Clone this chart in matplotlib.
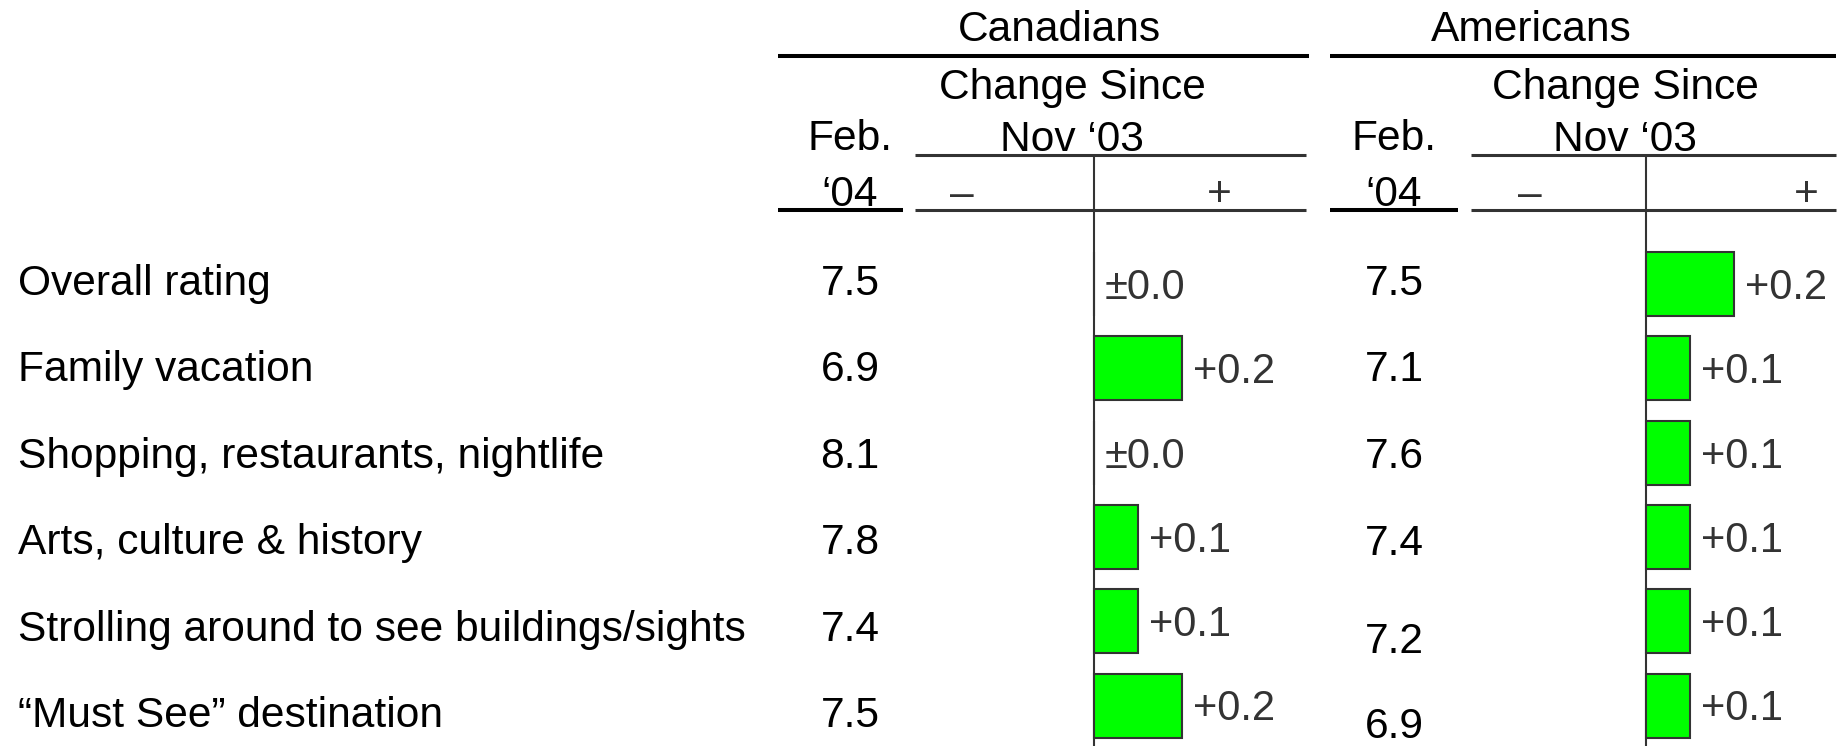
import matplotlib
matplotlib.use("Agg")
import matplotlib.pyplot as plt
from matplotlib.lines import Line2D

# ---------------- data ----------------
categories = [
    "Overall rating",
    "Family vacation",
    "Shopping, restaurants, nightlife",
    "Arts, culture & history",
    "Strolling around to see buildings/sights",
    "\u201cMust See\u201d destination",
]
can_feb04 = [7.5, 6.9, 8.1, 7.8, 7.4, 7.5]
can_change = [0.0, 0.2, 0.0, 0.1, 0.1, 0.2]
us_feb04 = [7.5, 7.1, 7.6, 7.4, 7.2, 6.9]
us_change = [0.2, 0.1, 0.1, 0.1, 0.1, 0.1]
group_titles = ["Canadians", "Americans"]

# ---------------- layout (pixels) ----------------
W, H = 1849, 746
DPI = 100
FONT = "Liberation Sans"
FS = 30.6
GREEN = "#00FF00"
DARK = "#333333"

plt.rcParams["font.family"] = [FONT, "DejaVu Sans"]

fig = plt.figure(figsize=(W / DPI, H / DPI), dpi=DPI)
fig.patch.set_facecolor("white")


def fx(x):
    return x / W


def fy(y):
    return 1 - y / H


def hline(x1, x2, y, lw, color):
    fig.add_artist(Line2D([fx(x1), fx(x2)], [fy(y), fy(y)], transform=fig.transFigure,
                          color=color, lw=lw, solid_capstyle="butt"))


def ftext(x, y, s, ha="center", va="baseline", color="black", size=FS):
    fig.text(fx(x), fy(y), s, ha=ha, va=va, color=color, fontsize=size, family=[FONT, "DejaVu Sans"])


row_base0, row_step = 295, 86.4     # label baselines
bar_c0, bar_step = 284, 84.3        # bar centers
px_per_unit = 440.0
ax_top, ax_bot = 154, 746

groups = [
    dict(title_x=1059, rule=(778, 1309), feb_rule=(778, 903), feb_x=850,
         sub_rule=(915, 1306), zero=1094, chg_x=1072, minus_x=962, plus_x=1219,
         feb=can_feb04, chg=can_change, yoff=[0, 0, 0, 0, 0, 0]),
    dict(title_x=1531, rule=(1330, 1836), feb_rule=(1330, 1458), feb_x=1394,
         sub_rule=(1471, 1836), zero=1646, chg_x=1625, minus_x=1530, plus_x=1806,
         feb=us_feb04, chg=us_change, yoff=[0, 0, 0, 1, 12, 11]),
]

# category labels
for i, cat in enumerate(categories):
    ftext(18, row_base0 + row_step * i, cat, ha="left")

for g, title in zip(groups, group_titles):
    # headers
    ftext(g["title_x"], 41, title)
    hline(g["rule"][0], g["rule"][1], 56, 2.9, "black")
    ftext(g["chg_x"], 99, "Change Since")
    ftext(g["chg_x"], 151, "Nov \u201803")
    ftext(g["feb_x"], 150, "Feb.")
    ftext(g["feb_x"], 206, "\u201804")
    ftext(g["minus_x"], 206, "\u2013", color=DARK)
    ftext(g["plus_x"], 206, "+", color=DARK)
    hline(g["sub_rule"][0], g["sub_rule"][1], 155, 2.2, DARK)
    hline(g["sub_rule"][0], g["sub_rule"][1], 210, 2.2, DARK)
    hline(g["feb_rule"][0], g["feb_rule"][1], 210, 2.9, "black")

    # Feb '04 values
    for i, v in enumerate(g["feb"]):
        ftext(g["feb_x"], row_base0 + row_step * i + g["yoff"][i], f"{v:.1f}")

    # change bars axis
    x0, x1 = g["sub_rule"]
    ax = fig.add_axes([fx(x0), fy(ax_bot), (x1 - x0) / W, (ax_bot - ax_top) / H])
    ax.set_xlim((x0 - g["zero"]) / px_per_unit, (x1 - g["zero"]) / px_per_unit)
    ax.set_ylim((ax_bot - bar_c0) / bar_step, (ax_top - bar_c0) / bar_step)
    ax.axis("off")
    ax.axvline(0, color=DARK, lw=1.5, zorder=1)
    rows = list(range(len(g["chg"])))
    ax.barh(rows, g["chg"], height=64 / bar_step, color=GREEN, edgecolor=DARK,
            linewidth=1.5, zorder=2)
    for i, v in zip(rows, g["chg"]):
        lab = "\u00b10.0" if abs(v) < 1e-9 else f"{v:+.1f}"
        ax.annotate(lab, (v, i), xytext=(11, -15), textcoords="offset pixels",
                    ha="left", va="baseline", fontsize=30, color=DARK,
                    family=[FONT, "DejaVu Sans"], annotation_clip=False)

fig.savefig("out.png", dpi=DPI, facecolor="white")
